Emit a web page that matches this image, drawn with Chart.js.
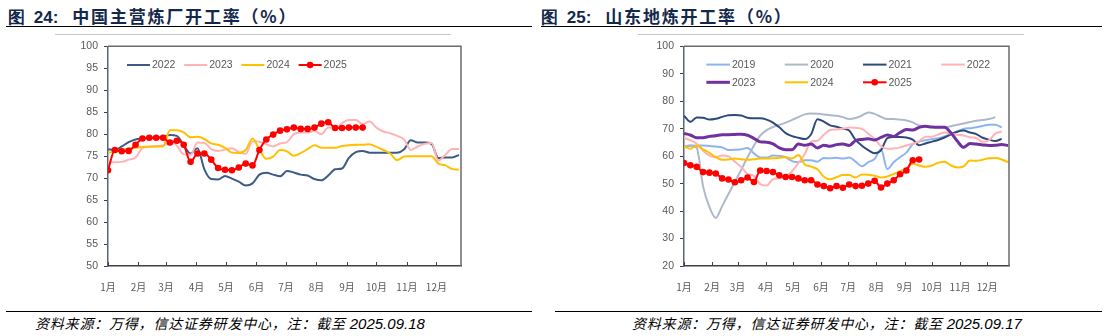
<!DOCTYPE html>
<html>
<head>
<meta charset="utf-8">
<script src="https://cdn.jsdelivr.net/npm/chart.js@4.4.1/dist/chart.umd.min.js"></script>
<style>
  html, body { margin: 0; padding: 0; background: #fff; }
  #page { position: relative; width: 1108px; height: 336px; overflow: hidden; }
  .title { position: absolute; top: 3px; font: bold 17px "Noto Sans CJK SC", sans-serif; color: #14284b; white-space: nowrap; letter-spacing: 1.8px; }
  .title b { font-family: "Liberation Sans", Arial, sans-serif; margin-right: 14px; letter-spacing: 0; word-spacing: 4px; }
  .rule { position: absolute; height: 0; border-top: 1.5px solid #000; }
  .thin { position: absolute; height: 0; border-top: 1px solid #c8c8c8; }
  .src { position: absolute; top: 313px; font: italic 14px "Noto Sans CJK SC", sans-serif; color: #000; white-space: nowrap; letter-spacing: 0.8px; }
  .src span { font-family: "Liberation Sans", Arial, sans-serif; font-size: 15px; letter-spacing: 0; }
  canvas { position: absolute; }
</style>
</head>
<body>
<div id="page">
  <div class="title" style="left:8px"><b>图 24:</b>中国主营炼厂开工率（%）</div>
  <div class="title" style="left:541px"><b>图 25:</b>山东地炼开工率（%）</div>
  <div class="rule" style="left:6px; width:526px; top:26px"></div>
  <div class="rule" style="left:541px; width:561px; top:26px"></div>
  <div class="thin" style="left:55px; width:396px; top:34px"></div>
  <div class="thin" style="left:638px; width:386px; top:34px"></div>
  <div class="rule" style="left:6px; width:526px; top:311px"></div>
  <div class="rule" style="left:555px; width:547px; top:311px"></div>
  <div class="src" style="left:35px">资料来源：万得，信达证券研发中心，注：截至 <span>2025.09.18</span></div>
  <div class="src" style="left:632px">资料来源：万得，信达证券研发中心，注：截至 <span>2025.09.17</span></div>
  <canvas id="c1" width="530" height="262" style="left:0; top:34px; width:530px; height:262px"></canvas>
  <canvas id="c2" width="554" height="262" style="left:554px; top:34px; width:554px; height:262px"></canvas>
</div>
<script>
// x axis: day of year, one tick per month
var monthStarts = [0, 31, 59, 90, 120, 151, 181, 212, 243, 273, 304, 334];
var monthLabels = ['1月', '2月', '3月', '4月', '5月', '6月', '7月', '8月', '9月', '10月', '11月', '12月'];

// 中国主营炼厂开工率 (%), weekly
var cn2022 = [76.6, 76.4, 77.2, 78.2, 78.8, 79.0, 79.1, 79.2, 79.4, 79.8, 79.6, 77.5, 75.6, 76.8, 72.0, 69.8, 69.7, 70.5, 69.9, 69.2, 68.3, 68.8, 70.8, 71.2, 70.8, 70.4, 71.6, 71.3, 70.8, 70.6, 69.8, 69.5, 70.6, 72.0, 72.2, 74.6, 75.9, 76.2, 75.8, 75.8, 75.8, 75.8, 75.8, 76.5, 78.6, 78.1, 78.1, 77.8, 74.6, 74.7, 74.7, 75.3];
var cn2023 = [73.6, 73.6, 73.7, 74.2, 74.7, 76.8, 77.1, 77.3, 77.4, 78.4, 77.4, 75.4, 75.3, 78.1, 78.0, 76.6, 76.2, 76.5, 76.8, 75.9, 75.5, 78.4, 78.3, 77.7, 77.2, 77.9, 78.2, 80.0, 80.4, 80.4, 80.7, 80.0, 81.5, 81.5, 82.5, 83.2, 83.2, 82.3, 82.9, 81.5, 80.6, 80.2, 79.6, 78.8, 76.4, 77.2, 77.8, 78.0, 74.0, 75.3, 76.6, 76.6];
var cn2024 = [75.8, 76.0, 76.4, 76.7, 76.9, 77.1, 77.2, 77.2, 77.2, 80.9, 80.9, 80.4, 79.3, 79.4, 78.9, 77.9, 77.6, 76.9, 75.8, 75.7, 76.4, 79.0, 76.5, 74.4, 74.9, 76.4, 76.1, 75.1, 75.7, 76.6, 77.5, 76.9, 76.9, 76.9, 77.3, 77.5, 77.6, 77.6, 77.7, 77.1, 76.4, 75.6, 74.1, 74.9, 75.0, 75.0, 75.0, 75.0, 73.3, 72.9, 72.1, 71.9];
var cn2025 = [71.8, 76.4, 76.1, 76.2, 77.6, 79.0, 79.2, 79.2, 79.2, 78.1, 78.5, 77.6, 73.7, 75.6, 75.6, 74.2, 72.3, 71.9, 71.8, 72.4, 73.3, 72.9, 76.4, 78.8, 79.9, 80.8, 81.1, 81.5, 81.2, 81.2, 81.5, 82.4, 82.7, 81.4, 81.4, 81.5, 81.5, 81.5];

// 山东地炼开工率 (%), weekly
var sd2019 = [63.5, 63.7, 63.9, 63.9, 63.7, 63.5, 63.2, 62.2, 62.3, 62.5, 63.0, 61.0, 59.5, 59.5, 60.2, 60.1, 59.6, 58.2, 57.8, 58.5, 58.5, 58.0, 59.3, 59.2, 59.4, 59.1, 59.5, 58.0, 56.3, 57.8, 59.0, 62.5, 55.3, 57.8, 59.6, 61.3, 64.3, 65.3, 65.8, 66.2, 66.5, 67.2, 67.8, 69.0, 69.9, 70.2, 70.5, 71.0, 71.4, 71.4, 70.5];
var sd2020 = [63.5, 64.0, 63.0, 49.0, 41.5, 37.5, 41.8, 46.2, 50.6, 55.0, 59.6, 63.8, 67.5, 69.5, 70.6, 71.4, 72.2, 73.2, 74.2, 75.2, 75.5, 75.4, 75.2, 74.9, 74.7, 74.2, 73.5, 73.9, 74.8, 75.9, 75.4, 74.3, 73.5, 73.5, 73.3, 73.0, 72.3, 71.2, 70.8, 70.5, 70.5, 70.5, 70.9, 71.4, 71.9, 72.4, 72.9, 73.2, 73.5, 74.2];
var sd2021 = [74.7, 72.5, 74.1, 74.0, 73.3, 73.6, 74.3, 74.9, 75.0, 74.8, 74.0, 73.8, 73.8, 73.3, 72.2, 70.5, 68.4, 67.3, 66.7, 66.2, 68.0, 73.4, 72.6, 71.2, 70.7, 70.0, 69.3, 65.9, 63.8, 62.2, 61.1, 62.1, 66.6, 67.0, 67.0, 66.8, 66.0, 64.0, 64.6, 65.3, 65.9, 66.8, 68.0, 68.9, 69.3, 68.6, 68.0, 66.7, 66.0, 65.5, 66.3];
var sd2022 = [66.6, 65.8, 64.5, 62.0, 60.2, 59.6, 60.2, 59.9, 58.0, 56.0, 53.6, 52.8, 49.8, 49.3, 51.6, 51.9, 52.6, 54.5, 57.5, 60.8, 65.2, 65.6, 67.8, 69.5, 69.7, 70.0, 70.4, 70.3, 69.9, 68.2, 66.3, 63.6, 62.7, 62.8, 63.2, 63.9, 64.5, 65.5, 67.1, 67.1, 67.9, 68.6, 68.2, 67.8, 67.5, 66.9, 66.6, 65.2, 65.8, 68.2, 69.0];
var sd2023 = [68.3, 67.7, 66.7, 66.7, 67.2, 67.4, 67.8, 67.8, 67.9, 68.0, 67.6, 66.5, 65.2, 65.1, 64.5, 63.0, 62.3, 62.3, 64.4, 64.0, 64.4, 63.0, 64.0, 63.6, 64.2, 64.4, 63.9, 65.7, 66.1, 66.3, 65.9, 66.8, 67.7, 67.2, 68.6, 69.7, 69.5, 70.5, 70.9, 70.6, 70.5, 70.5, 68.5, 65.5, 63.2, 64.6, 64.4, 64.1, 63.9, 64.0, 64.2, 63.9];
var sd2024 = [63.5, 62.7, 63.8, 62.5, 61.2, 59.6, 58.7, 58.8, 59.1, 58.9, 58.7, 58.9, 59.1, 59.1, 59.2, 59.4, 59.6, 59.1, 60.4, 57.0, 56.2, 55.2, 52.5, 51.6, 52.3, 53.1, 53.1, 52.2, 53.3, 53.2, 52.9, 52.2, 52.6, 53.5, 54.5, 55.5, 57.2, 56.6, 56.1, 56.6, 57.6, 58.0, 56.6, 55.9, 56.3, 58.4, 58.3, 58.7, 59.2, 59.3, 58.8, 57.8];
var sd2025 = [57.5, 56.7, 56.1, 54.2, 54.0, 53.7, 51.9, 51.5, 50.5, 51.2, 52.2, 50.6, 54.8, 54.6, 54.2, 53.0, 52.4, 52.4, 51.9, 51.2, 51.2, 49.7, 49.1, 48.3, 49.1, 48.5, 49.7, 49.1, 49.2, 50.0, 51.0, 48.6, 50.0, 51.2, 53.4, 54.8, 58.5, 58.8];

var GREY = '#595959';
var NUM_FONT = 'Liberation Sans';

function weekly(values) {
  return values.map(function (v, i) { return { x: i * 7, y: v }; });
}

function series(label, values, color, width, withDots) {
  return {
    label: label,
    data: weekly(values),
    borderColor: color,
    backgroundColor: color,
    borderWidth: width,
    pointRadius: withDots ? 3.3 : 0,
    pointBorderWidth: 0,
    pointBackgroundColor: color,
    tension: 0.3,
    cubicInterpolationMode: 'monotone',
    fill: false
  };
}

// frame on top/right, inward ticks on x axis, legend inside the plot
var framePlugin = {
  id: 'frame',
  afterDatasetsDraw: function (chart) {
    var ctx = chart.ctx, a = chart.chartArea;
    ctx.save();
    ctx.strokeStyle = '#6b6b6b';
    ctx.lineWidth = 1.5;
    ctx.beginPath();
    ctx.moveTo(a.left, a.top);
    ctx.lineTo(a.right, a.top);
    ctx.lineTo(a.right, a.bottom);
    ctx.stroke();
    var xs = chart.scales.x;
    ctx.strokeStyle = '#404040';
    ctx.lineWidth = 1;
    monthStarts.forEach(function (d) {
      var px = Math.round(xs.getPixelForValue(d)) + 0.5;
      ctx.beginPath();
      ctx.moveTo(px, a.bottom);
      ctx.lineTo(px, a.bottom - 4);
      ctx.stroke();
    });
    ctx.restore();
  },
  afterDraw: function (chart, args, opts) {
    var ctx = chart.ctx, a = chart.chartArea;
    ctx.save();
    ctx.font = '10.5px "' + NUM_FONT + '"';
    ctx.textBaseline = 'middle';
    chart.data.datasets.forEach(function (ds, i) {
      var col = i % opts.cols, row = Math.floor(i / opts.cols);
      var x = a.left + opts.x + col * opts.colW;
      var y = a.top + opts.y + row * opts.rowH;
      ctx.strokeStyle = ds.borderColor;
      ctx.lineWidth = ds.borderWidth;
      ctx.beginPath();
      ctx.moveTo(x, y);
      ctx.lineTo(x + opts.lineW, y);
      ctx.stroke();
      if (ds.pointRadius > 0) {
        ctx.fillStyle = ds.borderColor;
        ctx.beginPath();
        ctx.arc(x + opts.lineW / 2, y, 3.3, 0, Math.PI * 2);
        ctx.fill();
      }
      ctx.fillStyle = GREY;
      ctx.fillText(ds.label, x + opts.lineW + 2, y + 0.5);
    });
    ctx.restore();
  }
};

function makeChart(id, datasets, yMin, yMax, yStep, xMax, pad, legend) {
  datasets.forEach(function (ds, i) { ds.order = datasets.length - i; });
  return new Chart(document.getElementById(id), {
    type: 'line',
    data: { datasets: datasets },
    plugins: [framePlugin],
    options: {
      responsive: false,
      animation: false,
      layout: { padding: pad },
      plugins: { legend: { display: false }, tooltip: { enabled: false }, frame: legend },
      scales: {
        x: {
          type: 'linear',
          min: 0,
          max: xMax,
          afterBuildTicks: function (scale) {
            scale.ticks = monthStarts.map(function (d) { return { value: d }; });
          },
          afterFit: function (scale) { scale.height = 30; },
          grid: { display: false },
          border: { color: '#404040', width: 1.5 },
          ticks: {
            autoSkip: false,
            maxRotation: 0,
            padding: 7,
            color: GREY,
            font: { family: 'Noto Sans CJK SC', size: 10 },
            callback: function (v) { return monthLabels[monthStarts.indexOf(v)]; }
          }
        },
        y: {
          min: yMin,
          max: yMax,
          afterFit: function (scale) { scale.width = 40; },
          grid: { drawOnChartArea: false, tickLength: 4, color: '#404040' },
          border: { color: '#5a6478', width: 1.5 },
          ticks: { stepSize: yStep, padding: 6, color: GREY, font: { family: NUM_FONT, size: 10.5 } }
        }
      }
    }
  });
}

makeChart('c1', [
  series('2022', cn2022, '#3d5a88', 2, false),
  series('2023', cn2023, '#ffb3b5', 2, false),
  series('2024', cn2024, '#ffc000', 2, false),
  series('2025', cn2025, '#ff0000', 2, true)
], 50, 100, 5, 359, { left: 68, right: 69, top: 10, bottom: 0 },
  { x: 19, y: 18.7, cols: 4, colW: 57.2, rowH: 18, lineW: 23 });

makeChart('c2', [
  series('2019', sd2019, '#8db4f2', 2, false),
  series('2020', sd2020, '#adb9ca', 2, false),
  series('2021', sd2021, '#2e4a78', 2, false),
  series('2022', sd2022, '#ffb3b5', 2, false),
  series('2023', sd2023, '#7030a0', 3, false),
  series('2024', sd2024, '#ffc000', 2, false),
  series('2025', sd2025, '#ff0000', 2, true)
], 20, 100, 10, 358, { left: 90, right: 99, top: 10, bottom: 0 },
  { x: 22.4, y: 18.3, cols: 4, colW: 78.3, rowH: 17.7, lineW: 23.5 });
</script>
</body>
</html>
